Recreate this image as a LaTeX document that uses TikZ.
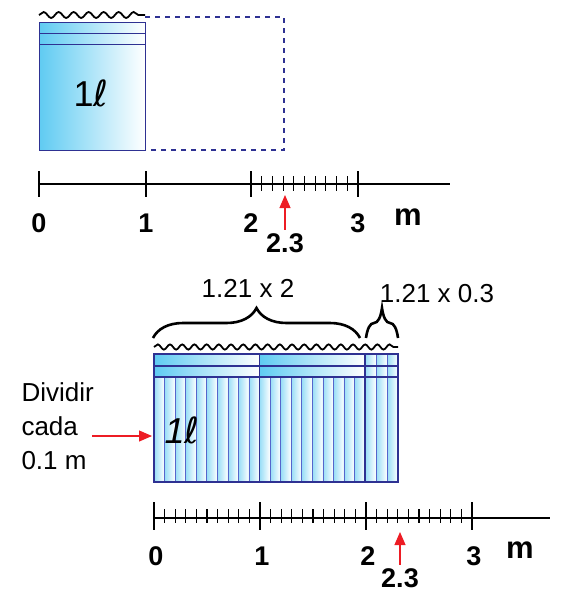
\documentclass[tikz,border=0pt]{standalone}
\usepackage{fontspec}
\setmainfont{Liberation Sans}
\newfontfamily\litrefont{DejaVu Sans}
\usetikzlibrary{arrows.meta,decorations.pathmorphing,decorations.pathreplacing}
\definecolor{boxblue}{HTML}{2E3192}
\definecolor{waterblue}{HTML}{5FCBF2}
\definecolor{stripblue}{HTML}{5566CC}
\definecolor{markred}{HTML}{ED1C24}

\begin{document}
\begin{tikzpicture}[x=1pt, y=-1pt,
    wave/.style={decorate, decoration={snake, amplitude=3pt, segment length=15pt}, line width=1.8pt},
    water/.style={left color=waterblue, right color=white, draw=boxblue, line width=0.9pt},
    strip/.style={left color=waterblue!65, right color=white, draw=stripblue, line width=0.6pt},
    axis/.style={line width=1.6pt},
    minor/.style={line width=1.1pt},
    num/.style={font=\fontsize{27}{30}\selectfont\bfseries},
    unit/.style={font=\fontsize{31}{32}\selectfont\bfseries},
    lbl/.style={font=\fontsize{26}{34}\selectfont},
    litre/.style={font=\fontsize{36}{38}\selectfont},
    redarr/.style={-{Triangle[length=13pt,width=11pt]}, draw=markred, fill=markred, line width=1.1pt},
    brace/.style={decorate, decoration={brace, amplitude=30pt, aspect=0.5}, line width=2.6pt}
  ]
    \useasboundingbox (0,0) rectangle (564,592);

    % one litre, top
    \draw[water] (39,22) rectangle (145,150);
    \draw[boxblue, line width=0.9pt] (39,33) -- (145,33) (39,44) -- (145,44);
    \draw[wave] (39,15) -- (145,15);
    \draw[boxblue, line width=1.8pt, dash pattern=on 5pt off 5pt] (145,17) -| (284,150) -- (145,150);
    \node[litre] (l1) at (91,93) {1{\litrefont\itshape ℓ}};

    % top ruler
    \draw[axis] (39,184) -- (450,184);
    \foreach \x/\t [count=\i] in {39/0, 146/1, 251/2, 358/3} {
      \draw[axis] (\x,171) -- (\x,197);
      \node[num] (ta\i) at (\x,223) {\t};
    }
    \foreach \i in {1,...,9}
      \draw[minor] ({251+\i*10.7},176) -- ({251+\i*10.7},191);
    \node[unit] (tm) at (408,217) {m};
    \node[num] (tv) at (285,243) {2.3};
    \coordinate (tp) at (285,195);
    \draw[redarr] (tv.north) -- (tp);

    % 2.3 litres, bottom
    \foreach \l in {0,1} {
      \draw[water] ({154+\l*105.5},354) rectangle ({259.5+\l*105.5},366);
      \draw[water] ({154+\l*105.5},366) rectangle ({259.5+\l*105.5},377);
    }
    \foreach \i in {0,...,19}
      \draw[strip] ({154+\i*10.55},377) rectangle ({164.55+\i*10.55},482);
    \foreach \i in {0,1,2}
      \draw[strip] ({365+\i*11},354) rectangle ({376+\i*11},482);
    \draw[boxblue, line width=1.4pt] (154,354) rectangle (398,482)
      (259.5,354) -- (259.5,482) (365,354) -- (365,482)
      (154,366) -- (398,366) (154,377) -- (398,377);
    \draw[wave, segment length=12.2pt, decoration={amplitude=2.6pt}] (154,347) -- (398,347);
    \node[litre, font=\fontsize{36}{38}\selectfont\itshape] (l2) at (182,430) {1{\litrefont ℓ}};

    \draw[brace] (153,338) -- (360,338);
    \draw[brace] (366,338) -- (398,338);
    \node[lbl] (b1) at (248,288) {1.21 x 2};
    \node[lbl] (b2) at (437,294) {1.21 x 0.3};

    \node[lbl, align=left, anchor=west] (div) at (18,426) {Dividir\\cada\\0.1 m};
    \coordinate (da) at (92,436);
    \coordinate (db) at (152,436);
    \draw[redarr] (da) -- (db);

    % bottom ruler
    \draw[axis] (154,518) -- (550,518);
    \foreach \x/\t [count=\i] in {154/0, 260/1, 366/2, 472/3} {
      \draw[axis] (\x,502) -- (\x,530);
      \node[num] (ba\i) at ({\x+2},556) {\t};
    }
    \foreach \i in {1,...,29}
      \draw[minor] ({154+\i*10.6},509) -- ({154+\i*10.6},523);
    \node[unit] (bm) at (520,550) {m};
    \node[num] (bv) at (400,578) {2.3};
    \coordinate (bp) at (400,532);
    \draw[redarr] (bv.north) -- (bp);
  \end{tikzpicture}
\end{document}
